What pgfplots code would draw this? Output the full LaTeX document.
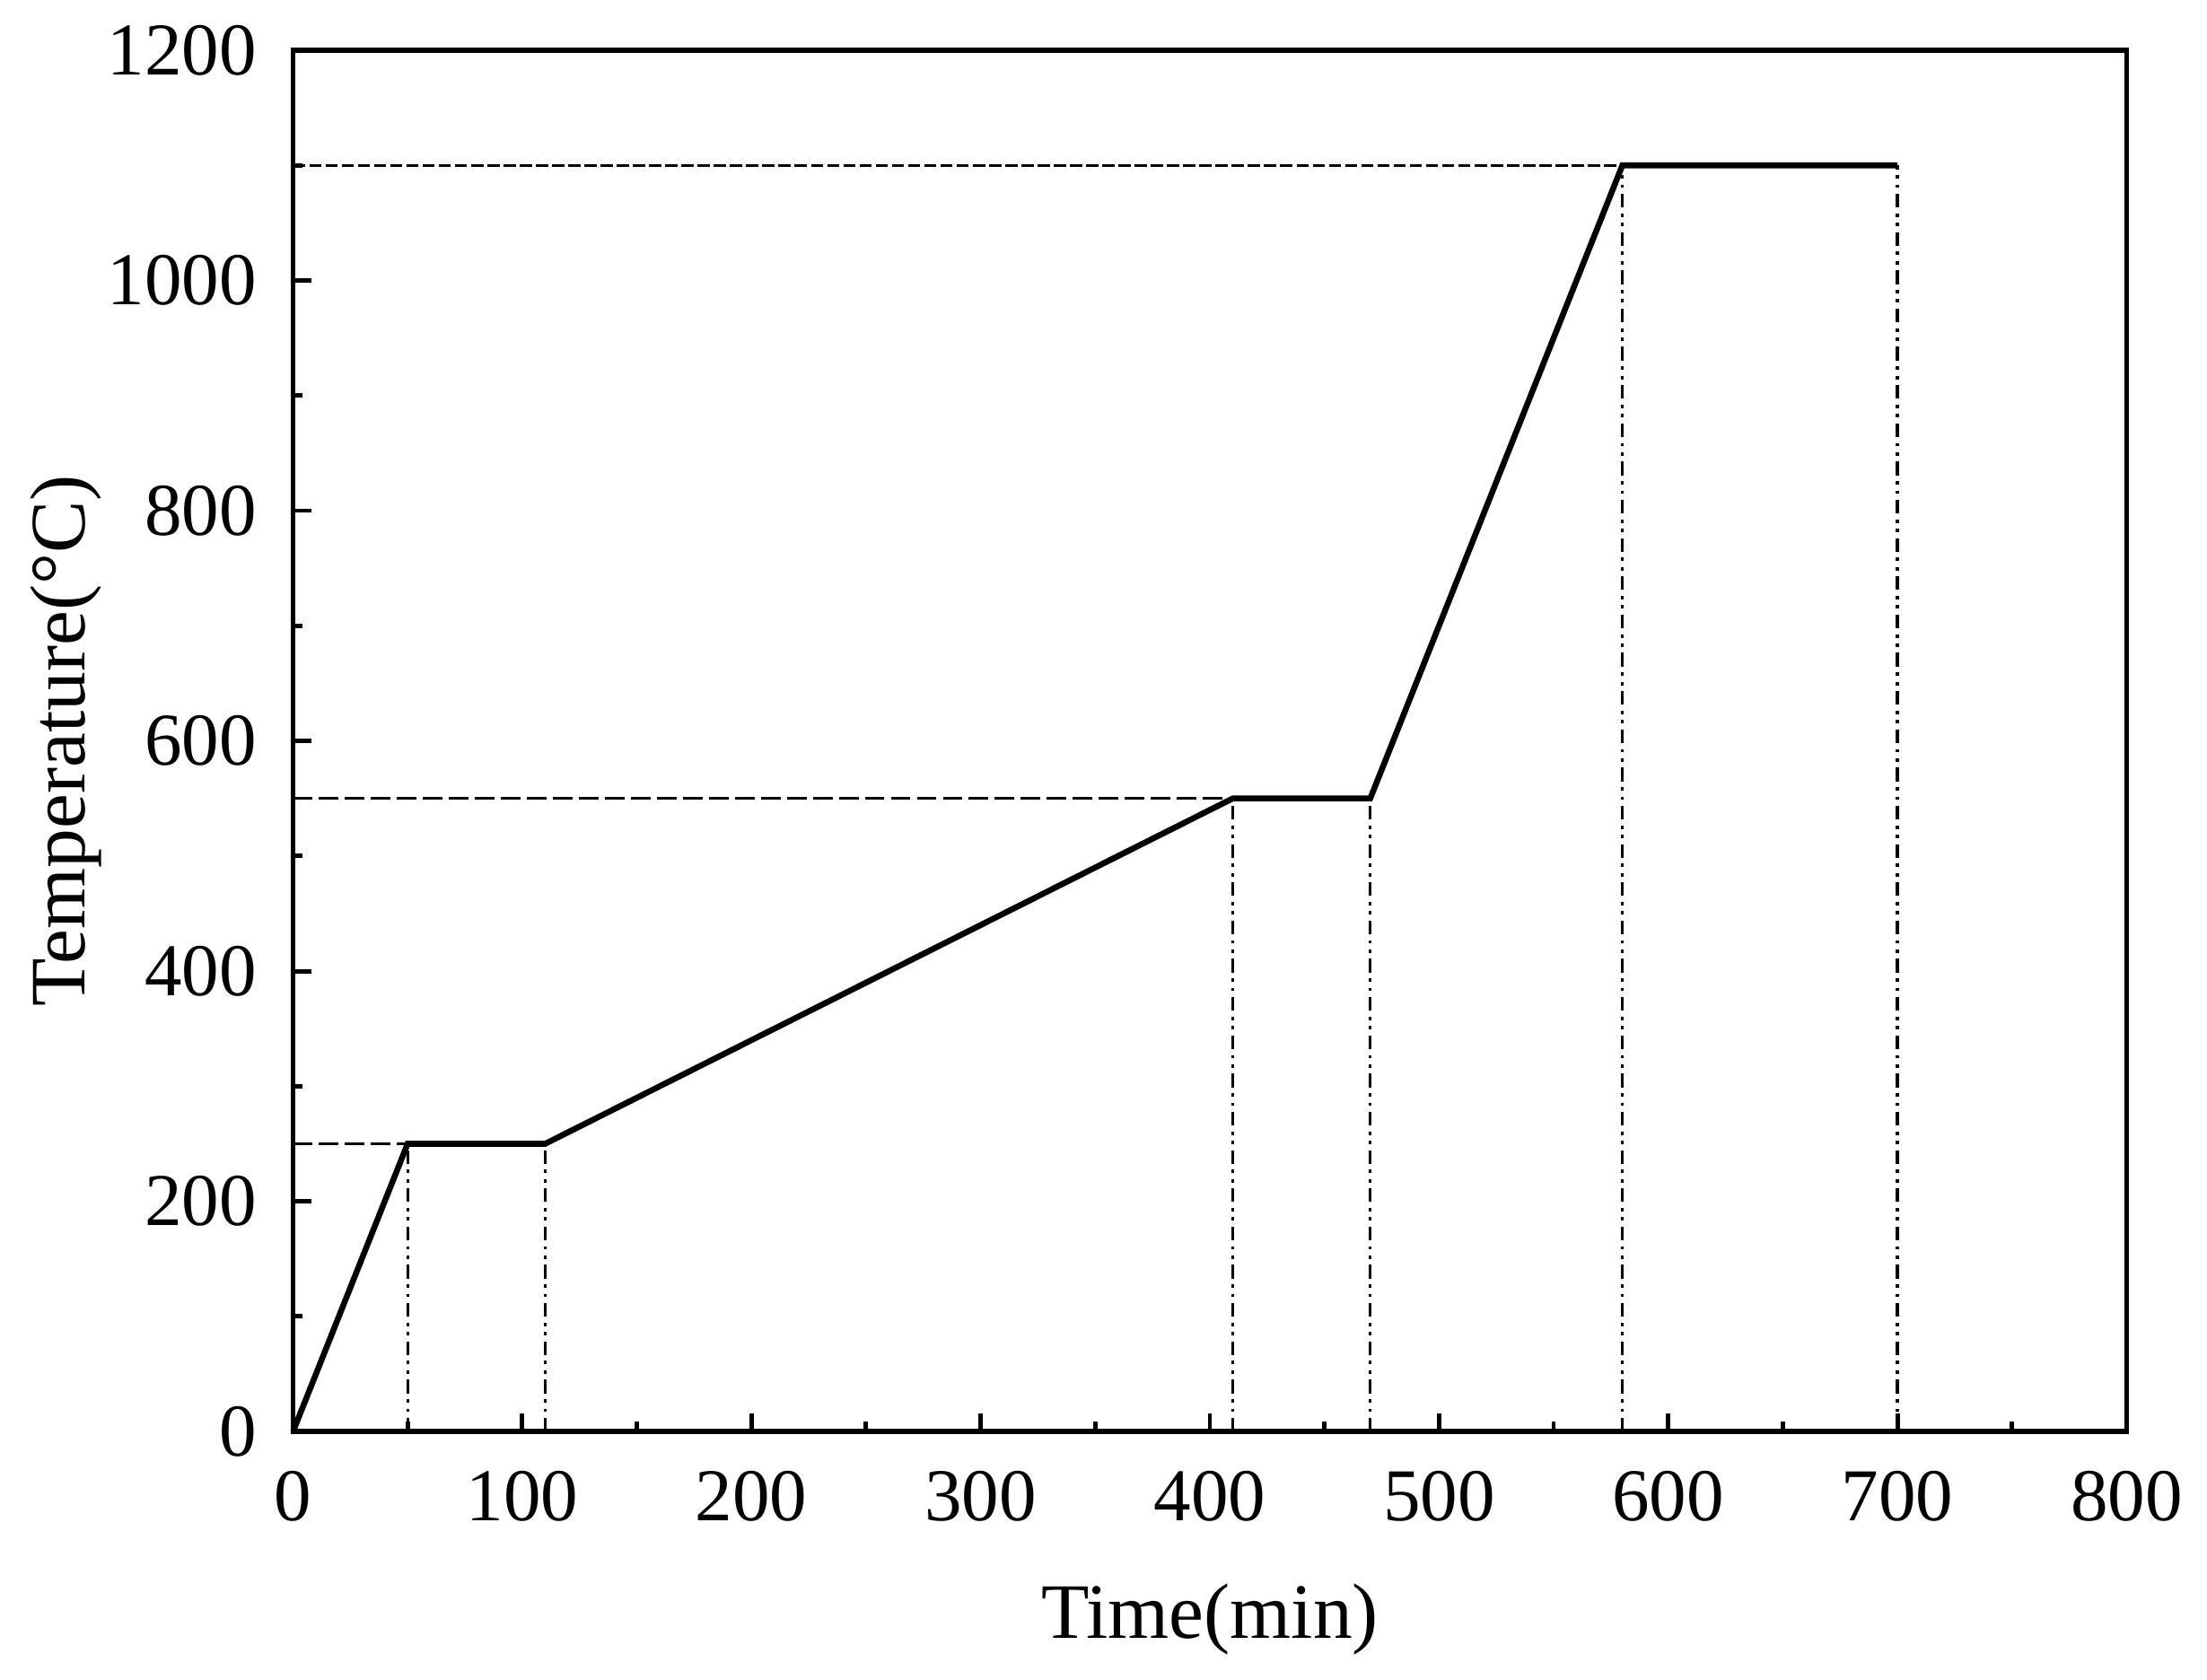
\documentclass[border=0pt]{standalone}
\usepackage{fontspec}
\setmainfont{Liberation Serif}
\usepackage{pgfplots}
\pgfplotsset{compat=1.18}
\begin{document}
\fontsize{15}{18}\selectfont
\begin{tikzpicture}
\begin{axis}[
  at={(0,0)}, anchor=south west,
  scale only axis,
  width=13.14cm, height=9.90cm,
  xmin=0, xmax=800, ymin=0, ymax=1200,
  xtick={0,100,...,800}, ytick={0,200,...,1200},
  minor xtick={50,150,...,750}, minor ytick={100,300,...,1100},
  tick pos=left, tick align=inside,
  major tick length=0.13cm, minor tick length=0.07cm,
  every tick/.style={line width=0.9pt, black},
  axis line style={line width=1pt},
  /pgf/number format/assume math mode=true,
  /pgf/number format/1000 sep={},
  ticklabel style={font=\fontsize{15.2}{18}\selectfont},
  xticklabel style={yshift=-0.1cm},
  yticklabel style={xshift=-0.08cm},
  xlabel={Time(min)}, ylabel={Temperature(°C)},
  label style={font=\fontsize{16}{19}\selectfont},
  xlabel style={at={(axis description cs:0.5,-0.136)}, anchor=center},
  ylabel style={at={(axis description cs:-0.124,0.5)}, anchor=center},
  clip=false,
]
% reference lines
\addplot[black, line width=0.55pt, dash pattern=on 4pt off 1.3pt] coordinates {(0,250) (50,250)};
\addplot[black, line width=0.55pt, dash pattern=on 4pt off 1.3pt] coordinates {(0,550) (410,550)};
\addplot[black, line width=0.55pt, dash pattern=on 2.5pt off 0.8pt] coordinates {(0,1100) (580,1100)};
\addplot[black, line width=0.6pt, dash pattern=on 2.8pt off 1.2pt on 0.7pt off 1.2pt on 0.7pt off 1.2pt] coordinates {(50,0) (50,250)};
\addplot[black, line width=0.6pt, dash pattern=on 2.8pt off 1.2pt on 0.7pt off 1.2pt on 0.7pt off 1.2pt] coordinates {(110,0) (110,250)};
\addplot[black, line width=0.6pt, dash pattern=on 2.8pt off 1.2pt on 0.7pt off 1.2pt on 0.7pt off 1.2pt] coordinates {(410,0) (410,550)};
\addplot[black, line width=0.6pt, dash pattern=on 2.8pt off 1.2pt on 0.7pt off 1.2pt on 0.7pt off 1.2pt] coordinates {(470,0) (470,550)};
\addplot[black, line width=0.6pt, dash pattern=on 2.8pt off 1.2pt on 0.7pt off 1.2pt on 0.7pt off 1.2pt] coordinates {(580,0) (580,1100)};
\addplot[black, line width=0.6pt, dash pattern=on 2.8pt off 1.2pt on 0.7pt off 1.2pt on 0.7pt off 1.2pt] coordinates {(700,0) (700,1100)};
% main profile
\addplot[black, line width=1.2pt, line join=miter] coordinates {
(0,0) (50,250) (110,250) (410,550) (470,550) (580,1100) (700,1100)};
\end{axis}
\path[use as bounding box] (-2.10,-1.74) rectangle (13.58,10.26);
\end{tikzpicture}
\end{document}
